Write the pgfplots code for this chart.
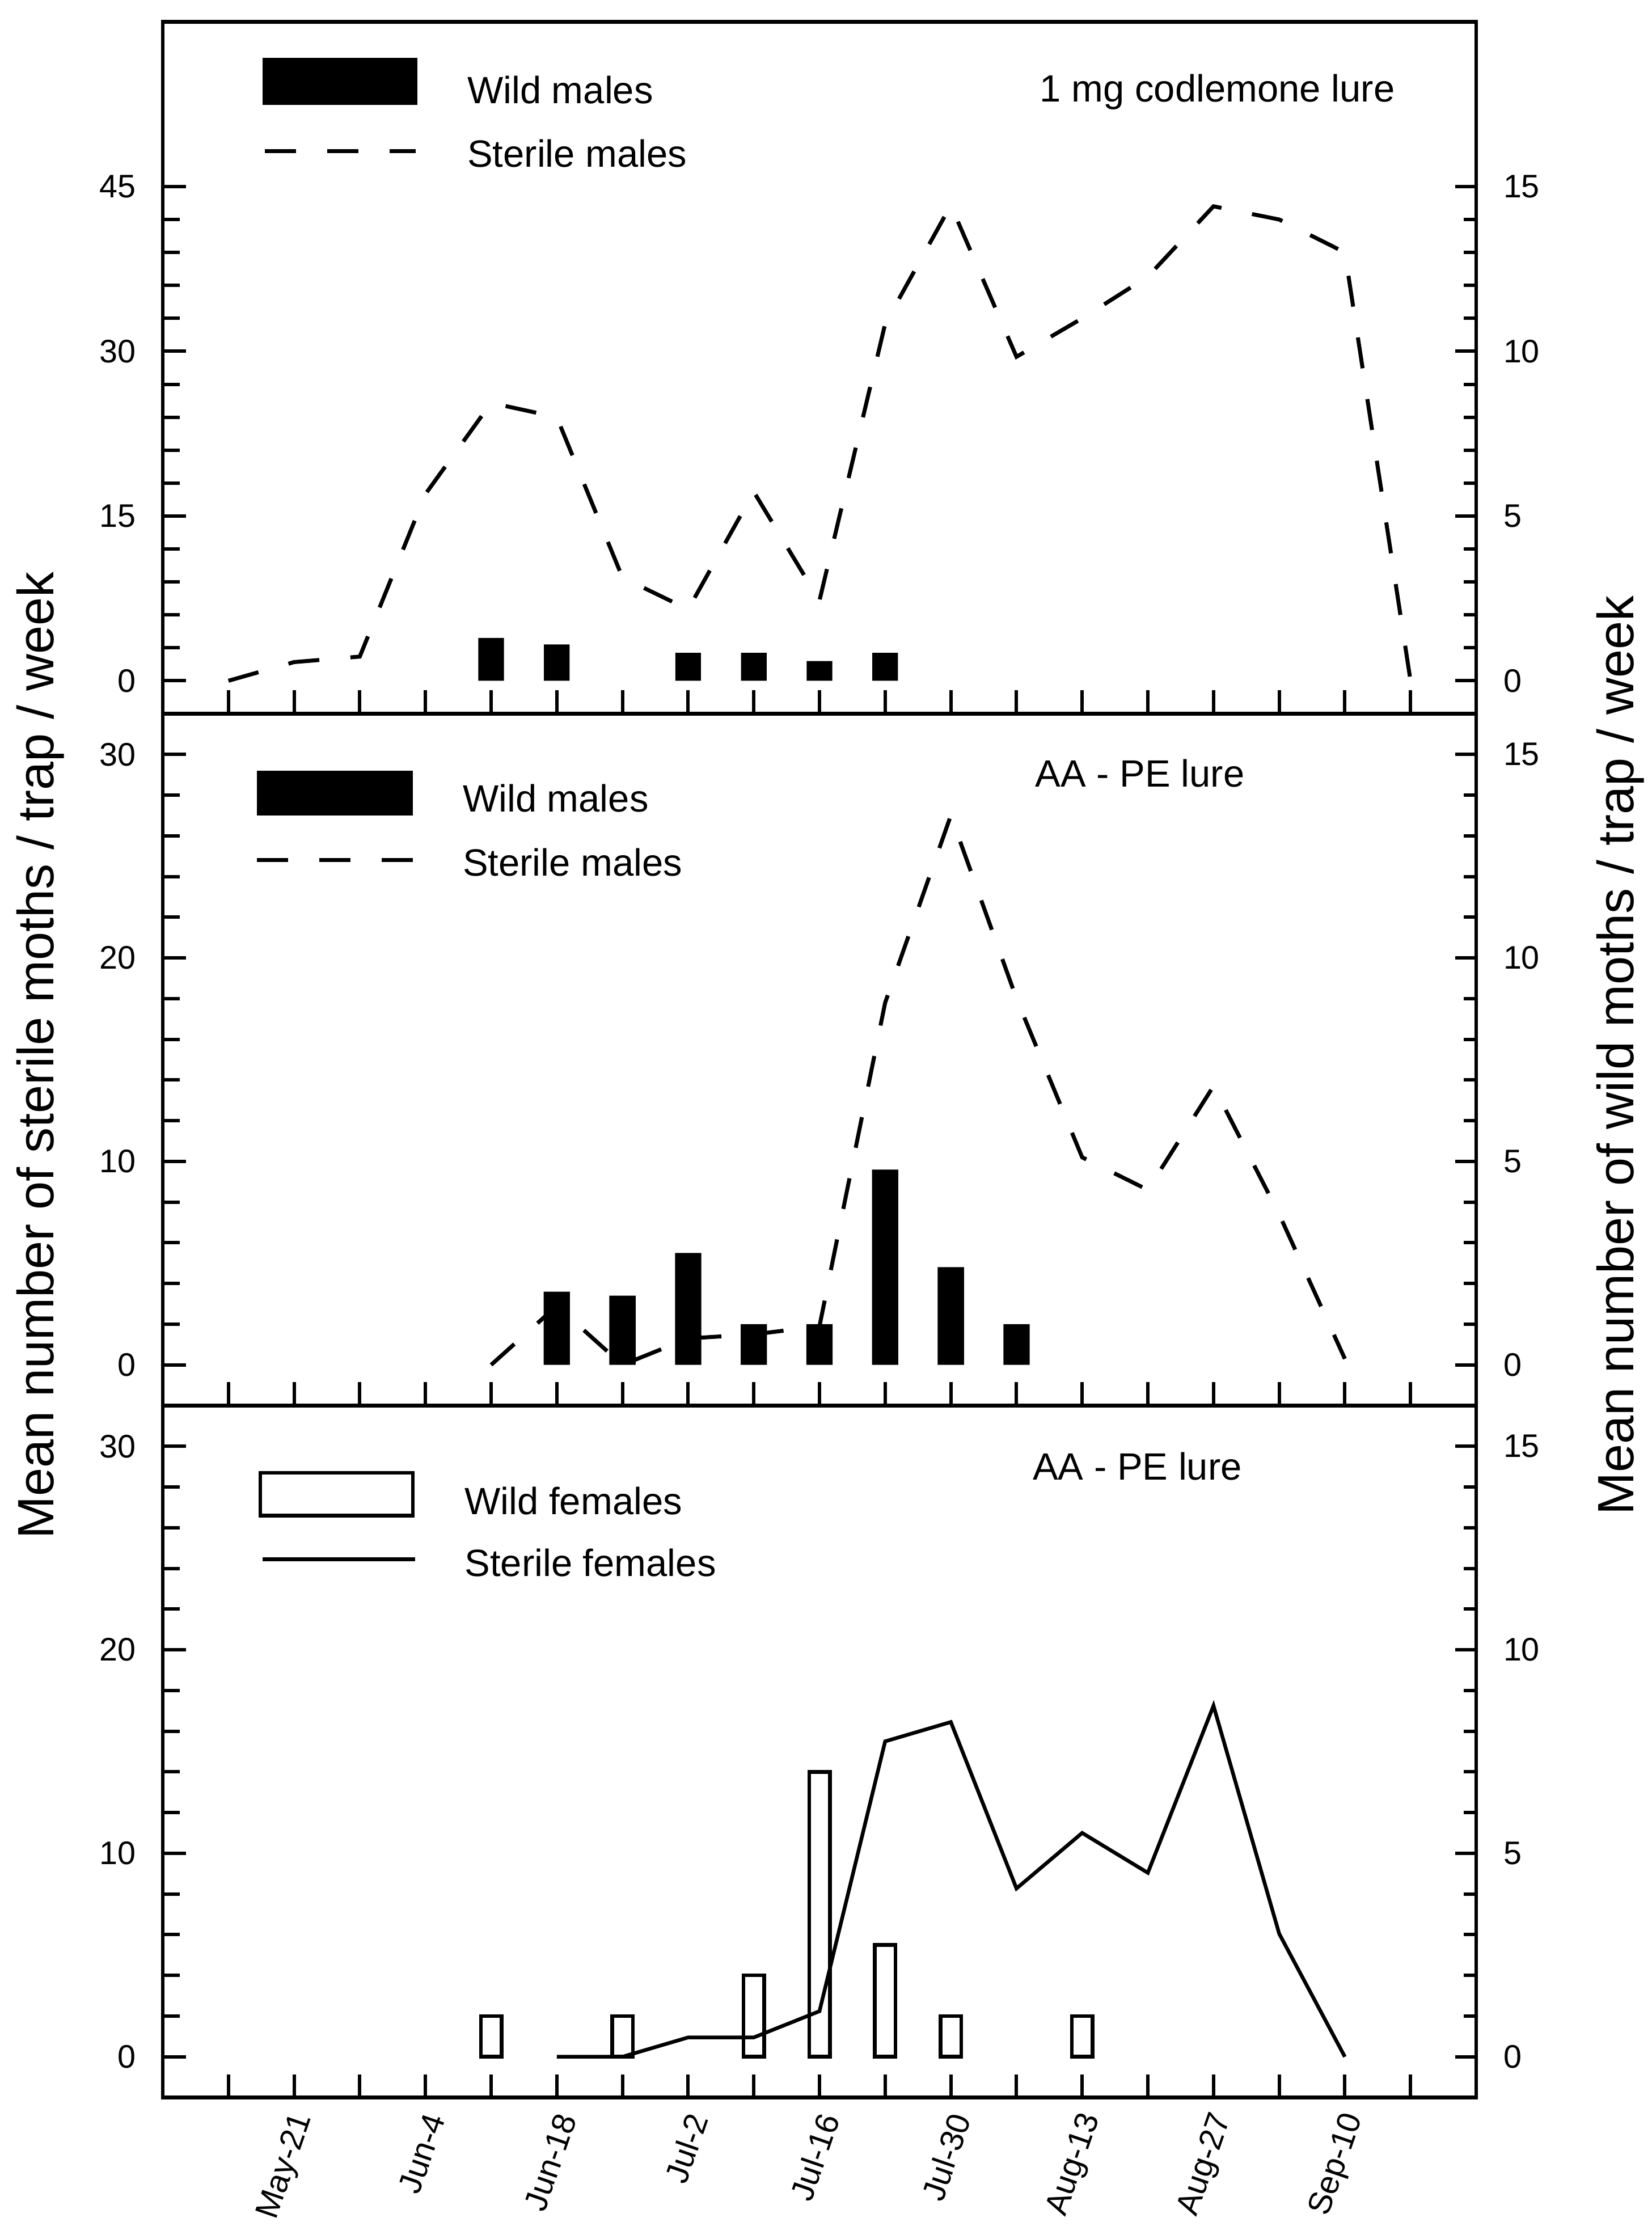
\documentclass[border=0pt]{standalone}
\usepackage{pgfplots}
\pgfplotsset{compat=1.18}
\usepackage{fontspec}
\setmainfont{Liberation Sans}

\tikzset{lgd/.style={anchor=base west, inner sep=0pt, font=\fontsize{13.4}{16}\selectfont}}
\pgfplotsset{
  base/.style={
    scale only axis, width=463.2pt, height=244pt, anchor=south west,
    xmin=-1, xmax=19,
    tick align=inside,
    tick style={line width=1.2pt, black},
    axis line style={line width=1.25pt},
    /pgf/number format/assume math mode=true,
    ticklabel style={font=\fontsize{11.5}{13}\selectfont},
  },
  leftax/.style={base, tick pos=left, xtick={0,...,18}, xticklabels={},
    major tick length=8.2pt, minor tick length=6pt,
    yticklabel style={anchor=east, inner sep=0pt, xshift=-9.4pt},
  },
  rightax/.style={base, axis x line=none, axis y line*=right,
    ytick={0,5,10,15}, minor ytick={1,2,3,4,6,7,8,9,11,12,13,14},
    major tick length=7.4pt, minor tick length=4.4pt,
    yticklabel style={anchor=west, inner sep=0pt, xshift=9.4pt},
  },
  sterile/.style={black, line width=1.4pt, dash pattern=on 11pt off 11pt},
}

\begin{document}
\begin{tikzpicture}

% ---------------- Panel 1: 1 mg codlemone lure ----------------
\begin{axis}[rightax, at={(57.4pt,536.5pt)}, ymin=-1, ymax=20]
  \addplot[ybar, bar width=0.39, bar shift=0pt, fill=black, draw=none]
    coordinates {(4,1.3) (5,1.1) (7,0.85) (8,0.85) (9,0.6) (10,0.85)};
\end{axis}
\begin{axis}[leftax, at={(57.4pt,536.5pt)}, ymin=-3, ymax=60,
    ytick={0,15,30,45}, minor ytick={3,6,9,12,18,21,24,27,33,36,39,42}]
  \addplot[sterile] coordinates {
    (0,0) (1,1.7) (2,2.2) (3,17) (4,25.3) (5,24) (6,9.4) (7,6.5) (8,17.2)
    (9,7.3) (10,32.5) (11,43.3) (12,29.5) (13,33) (14,36.8) (15,43.2)
    (16,42) (17,39) (18,0)};
  \addplot[fill=black, draw=none, forget plot]
    coordinates {(0.521,56.7) (2.879,56.7) (2.879,52.44) (0.521,52.44)};
  \addplot[sterile, forget plot] coordinates {(0.556,48.2) (2.853,48.2)};
  \node[lgd] at (axis cs:3.63,52.54) {Wild males};
  \node[lgd] at (axis cs:3.63,46.77) {Sterile males};
  \node[lgd] at (axis cs:12.35,52.7) {1 mg codlemone lure};
\end{axis}

% ---------------- Panel 2: AA - PE lure, males ----------------
\begin{axis}[rightax, at={(57.4pt,292.5pt)}, ymin=-1, ymax=16]
  \addplot[ybar, bar width=0.40, bar shift=0pt, fill=black, draw=none]
    coordinates {(5,1.8) (6,1.7) (7,2.75) (8,1.0) (9,1.0) (10,4.8) (11,2.4) (12,1.0)};
\end{axis}
\begin{axis}[leftax, at={(57.4pt,292.5pt)}, ymin=-2, ymax=32,
    ytick={0,10,20,30}, minor ytick={2,4,6,8,12,14,16,18,22,24,26,28}]
  \addplot[sterile] coordinates {
    (4,0) (5,2.9) (6,0) (7,1.3) (8,1.5) (9,1.9) (10,17.8) (11,27) (12,18)
    (13,10.2) (14,8.6) (15,13.7) (16,7.4) (17,0.3)};
  \addplot[fill=black, draw=none, forget plot]
    coordinates {(0.431,29.2) (2.81,29.2) (2.81,27.0) (0.431,27.0)};
  \addplot[sterile, forget plot] coordinates {(0.431,24.81) (2.81,24.81)};
  \node[lgd] at (axis cs:3.56,27.17) {Wild males};
  \node[lgd] at (axis cs:3.56,24.04) {Sterile males};
  \node[lgd] at (axis cs:12.28,28.4) {AA - PE lure};
\end{axis}

% ---------------- Panel 3: AA - PE lure, females ----------------
\begin{axis}[rightax, at={(57.4pt,48.5pt)}, ymin=-1, ymax=16]
  \addplot[ybar, bar width=0.315, bar shift=0pt, fill=white, draw=black, line width=1.3pt]
    coordinates {(4,1) (6,1) (8,2) (9,7) (10,2.75) (11,1) (13,1)};
\end{axis}
\begin{axis}[leftax, at={(57.4pt,48.5pt)}, ymin=-2, ymax=32,
    ytick={0,10,20,30}, minor ytick={2,4,6,8,12,14,16,18,22,24,26,28},
    xticklabels={,May-21,,Jun-4,,Jun-18,,Jul-2,,Jul-16,,Jul-30,,Aug-13,,Aug-27,,Sep-10,},
    xticklabel style={xshift=3.5pt, yshift=-6pt, rotate=71, anchor=east, inner sep=0pt}]
  \addplot[black, line width=1.3pt] coordinates {
    (5,0) (6,0) (7,0.95) (8,0.95) (9,2.24) (10,15.5) (11,16.45) (12,8.27)
    (13,11) (14,9.04) (15,17.25) (16,6.05) (17,0)};
  \addplot[fill=white, draw=black, line width=1.3pt, forget plot]
    coordinates {(0.484,28.7) (2.81,28.7) (2.81,26.6) (0.484,26.6)} -- cycle;
  \addplot[black, line width=1.3pt, forget plot] coordinates {(0.52,24.45) (2.84,24.45)};
  \node[lgd] at (axis cs:3.59,26.65) {Wild females};
  \node[lgd] at (axis cs:3.59,23.6) {Sterile females};
  \node[lgd] at (axis cs:12.24,28.35) {AA - PE lure};
\end{axis}

% axis titles
\node[rotate=90, anchor=base, inner sep=0pt, font=\fontsize{18}{20}\selectfont]
  at (19pt,416pt) {Mean number of sterile moths / trap / week};
\node[rotate=90, anchor=base, inner sep=0pt, font=\fontsize{18}{20}\selectfont]
  at (576pt,416pt) {Mean number of wild moths / trap / week};

\pgfresetboundingbox
\path (0pt,0pt) rectangle (582.6pt,788.2pt);
\end{tikzpicture}
\end{document}
